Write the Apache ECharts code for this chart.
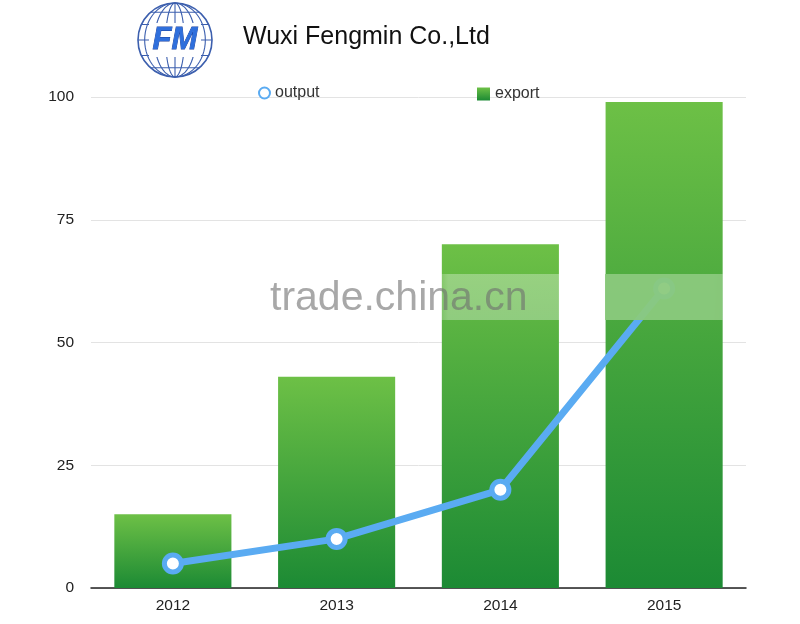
<!DOCTYPE html>
<html>
<head>
<meta charset="utf-8">
<script src="https://cdn.jsdelivr.net/npm/echarts@6/dist/echarts.min.js"></script>
<style>html,body{margin:0;padding:0;background:#fff}#c{width:800px;height:624px}</style>
</head>
<body>
<div id="c"></div>
<script>
const categories = ['2012', '2013', '2014', '2015'];
const exportValues = [15, 43, 70, 99];
const outputValues = [5, 10, 20, 61];
const yTicks = [0, 25, 50, 75, 100];

const chart = echarts.init(document.getElementById('c'));

// logo globe decoration
const cx = 175, cy = 40, R = 37;
function ellipsePts(rx, ry) {
  const p = [];
  for (let i = 0; i <= 60; i++) {
    const a = i / 60 * Math.PI * 2;
    p.push([cx + rx * Math.cos(a), cy + ry * Math.sin(a)]);
  }
  return p;
}
const font = 'Liberation Sans';
const logoEls = [];
logoEls.push({type: 'circle', shape: {cx: cx, cy: cy, r: R}, style: {fill: '#fff', stroke: '#3c5fae', lineWidth: 1.6}});
[0.25, 0.55, 0.82].forEach(k => {
  logoEls.push({type: 'polyline', shape: {points: ellipsePts(R * k, R)}, style: {fill: null, stroke: '#3c5fae', lineWidth: 1.1}});
});
logoEls.push({type: 'line', shape: {x1: cx, y1: cy - R, x2: cx, y2: cy + R}, style: {stroke: '#3c5fae', lineWidth: 1.1}});
[-0.75, -0.42, 0, 0.42, 0.75].forEach(k => {
  const dy = R * k;
  const hw = Math.sqrt(R * R - dy * dy);
  logoEls.push({type: 'line', shape: {x1: cx - hw, y1: cy + dy, x2: cx + hw, y2: cy + dy}, style: {stroke: '#3c5fae', lineWidth: 1.1}});
});
logoEls.push({type: 'rect', shape: {x: cx - 26, y: cy - 17, width: 52, height: 34}, style: {fill: '#fff'}});
logoEls.push({type: 'text', x: cx, y: cy, style: {text: 'FM', fill: '#2f6fdc', fontStyle: 'italic', fontWeight: 'bold', fontSize: 31, fontFamily: font, align: 'center', verticalAlign: 'middle', stroke: '#1b3f9a', lineWidth: 0.8}});

chart.setOption({
  animation: false,
  backgroundColor: '#fff',
  title: {
    text: 'Wuxi Fengmin Co.,Ltd',
    left: 238, top: 20,
    textStyle: {fontFamily: font, fontSize: 25, fontWeight: 'normal', color: '#111'}
  },
  legend: [
    {data: [{name: 'output', icon: 'circle'}], left: 253, top: 80, itemWidth: 11, itemHeight: 11, itemGap: 6,
      textStyle: {fontFamily: font, fontSize: 16, color: '#333'}},
    {data: [{name: 'export', icon: 'rect'}], left: 472, top: 81, itemWidth: 13, itemHeight: 13,
      textStyle: {fontFamily: font, fontSize: 16, color: '#333'}}
  ],
  grid: {left: 91, right: 54, top: 97, bottom: 36},
  xAxis: {
    type: 'category', data: categories,
    axisLine: {lineStyle: {color: '#222', width: 1.5}},
    axisTick: {show: false},
    axisLabel: {fontFamily: font, fontSize: 15.5, color: '#222', margin: 10}
  },
  yAxis: {
    type: 'value', min: yTicks[0], max: yTicks[yTicks.length - 1], interval: 25,
    axisLine: {show: false}, axisTick: {show: false},
    axisLabel: {fontFamily: font, fontSize: 15.5, color: '#222', margin: 17},
    splitLine: {lineStyle: {color: '#e3e3e3'}}
  },
  series: [
    {
      name: 'export', type: 'bar', data: exportValues, barWidth: '71.5%',
      itemStyle: {color: new echarts.graphic.LinearGradient(0, 0, 0, 1, [
        {offset: 0, color: '#6dc046'}, {offset: 1, color: '#1c8a34'}])},
      z: 2
    },
    {
      name: 'output', type: 'line', data: outputValues,
      symbol: 'circle', symbolSize: 17,
      lineStyle: {color: '#5aabf2', width: 7},
      itemStyle: {color: '#fff', borderColor: '#5aabf2', borderWidth: 5},
      z: 3
    }
  ],
  color: ['#43a73e', '#5aabf2'],
  graphic: [
    {type: 'group', z: 100, children: logoEls},
    {type: 'rect', z: 100, shape: {x: 430, y: 274, width: 305, height: 46},
      style: {fill: new echarts.graphic.LinearGradient(0, 0, 1, 0, [
        {offset: 0, color: 'rgba(255,255,255,0)'}, {offset: 0.06, color: 'rgba(255,255,255,0.32)'},
        {offset: 0.93, color: 'rgba(255,255,255,0.32)'}, {offset: 1, color: 'rgba(255,255,255,0.1)'}])}},
    {type: 'rect', z: 100, shape: {x: 605, y: 274, width: 117, height: 46},
      style: {fill: 'rgba(136,200,122,0.92)'}},
    {type: 'text', z: 101, left: 270, top: 278,
      style: {text: 'trade.china.cn', fontSize: 41, fontFamily: font, fill: 'rgba(110,110,110,0.6)'}}
  ]
});
</script>
</body>
</html>
